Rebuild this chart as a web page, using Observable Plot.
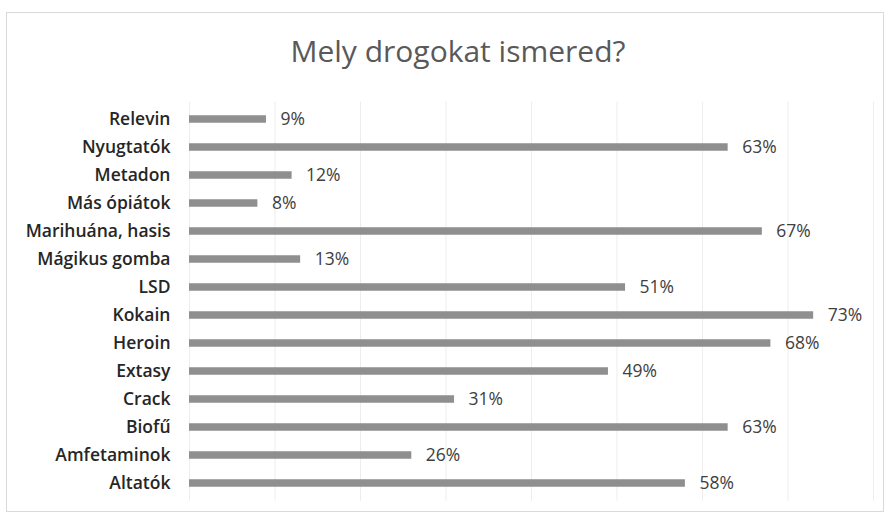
<!DOCTYPE html>
<html>
<head>
<meta charset="utf-8">
<script src="https://cdn.jsdelivr.net/npm/d3@7"></script>
<script src="https://cdn.jsdelivr.net/npm/@observablehq/plot@0.6"></script>
<style>
  html, body { margin: 0; padding: 0; background: #fff; }
  #wrap { position: relative; width: 890px; height: 523px; overflow: hidden; }
  #frame { position: absolute; left: 6px; top: 12px; width: 878px; height: 500px; border: 1px solid #d9d9d9; box-sizing: border-box; }
  #title { position: absolute; left: 0; top: 0; width: 890px; height: 100px; text-align: center;
           font-family: "Open Sans", sans-serif; font-size: 30px; color: #595959; line-height: 1; }
  #title span { position: absolute; left: 0; right: 0; top: 36px; padding-left: 26px; }
  #chart { position: absolute; left: 0; top: 100px; }
</style>
</head>
<body>
<div id="wrap">
  <div id="frame"></div>
  <div id="title"><span>Mely drogokat ismered?</span></div>
  <div id="chart"></div>
</div>
<script>
const categories = ["Relevin", "Nyugtatók", "Metadon", "Más ópiátok", "Marihuána, hasis", "Mágikus gomba", "LSD", "Kokain", "Heroin", "Extasy", "Crack", "Biofű", "Amfetaminok", "Altatók"];
const values = [9, 63, 12, 8, 67, 13, 51, 73, 68, 49, 31, 63, 26, 58];
const gridTicks = [0, 10, 20, 30, 40, 50, 60, 70, 80];

const data = categories.map((c, i) => ({category: c, value: values[i]}));

const chart = Plot.plot({
  width: 890,
  height: 423,
  marginLeft: 189,
  marginRight: 17,
  marginTop: 1.75,
  marginBottom: 22.25,
  style: {fontFamily: "'Open Sans', sans-serif", background: "transparent", overflow: "visible"},
  x: {domain: [0, 80], axis: null},
  y: {domain: categories, padding: 0, label: null},
  marks: [
    Plot.ruleX(gridTicks, {stroke: "#ededed", strokeWidth: 1}),
    Plot.barX(data, {y: "category", x: "value", fill: "#8f8f8f", insetTop: 10.25, insetBottom: 10.25}),
    Plot.text(data, {y: "category", x: "value", text: d => d.value + "%", textAnchor: "start", dx: 14,
                     fontSize: 17.5, fill: "#404040"}),
    Plot.axisY({tickSize: 0, tickPadding: 19, fontSize: 17.5, fontWeight: 600, color: "#262626", label: null})
  ]
});
document.getElementById("chart").appendChild(chart);
</script>
</body>
</html>
